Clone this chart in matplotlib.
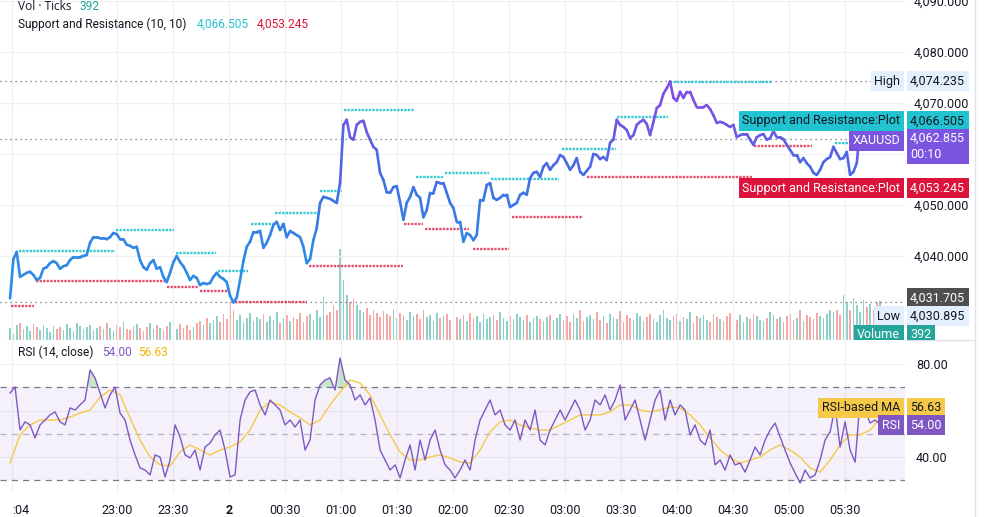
import numpy as np
import matplotlib.pyplot as plt
from matplotlib.collections import LineCollection
from matplotlib.colors import LinearSegmentedColormap, Normalize
from matplotlib.lines import Line2D
from matplotlib.transforms import blended_transform_factory, Bbox, TransformedBbox

plt.rcParams['font.family'] = ['Roboto', 'DejaVu Sans']

# time is in minutes from 00:00 of day 2 (negative = day 1 evening)
t_first = -117.3
t_last = 348.8

# XAUUSD closes, evenly sampled from t_first to t_last
close = [
    4031.7, 4039.4, 4040.8, 4035.9, 4036.3, 4036.7, 4036.9, 4036.3, 4035.3, 4035.7,
    4037.5, 4037.8, 4038.6, 4039.0, 4038.6, 4037.5, 4038.0, 4038.2, 4039.2, 4039.8,
    4039.8, 4039.8, 4040.0, 4040.2, 4042.6, 4043.7, 4043.7, 4043.5, 4043.5, 4043.3,
    4043.7, 4044.5, 4044.3, 4043.3, 4043.3, 4042.2, 4042.0, 4041.6, 4041.8, 4039.2,
    4037.8, 4037.3, 4038.6, 4039.2, 4037.5, 4037.8, 4035.9, 4034.9, 4036.7, 4038.8,
    4040.0, 4038.8, 4038.0, 4036.7, 4035.3, 4036.1, 4035.7, 4034.3, 4034.7, 4034.5,
    4034.7, 4035.9, 4036.7, 4035.9, 4035.5, 4034.9, 4032.2, 4030.9, 4031.8, 4035.3,
    4039.0, 4041.8, 4042.8, 4044.7, 4044.7, 4044.9, 4041.6, 4042.6, 4044.1, 4046.1,
    4046.7, 4045.1, 4046.3, 4043.7, 4044.9, 4044.5, 4044.1, 4043.7, 4041.8, 4038.6,
    4039.4, 4043.1, 4045.5, 4050.4, 4051.6, 4051.4, 4051.2, 4050.8, 4050.4, 4054.3,
    4065.7, 4066.7, 4063.3, 4062.8, 4065.7, 4066.3, 4066.5, 4064.3, 4062.8, 4061.4,
    4060.8, 4056.3, 4054.9, 4052.5, 4052.4, 4053.5, 4053.7, 4050.6, 4047.1, 4050.4,
    4051.6, 4053.5, 4052.0, 4051.4, 4047.6, 4049.0, 4052.4, 4052.4, 4054.5, 4054.3,
    4054.3, 4052.4, 4050.4, 4049.4, 4046.7, 4046.7, 4042.8, 4044.5, 4044.1, 4043.1,
    4044.1, 4051.0, 4051.0, 4053.9, 4054.3, 4051.4, 4051.0, 4051.4, 4052.0, 4052.0,
    4049.6, 4050.0, 4050.4, 4052.0, 4052.4, 4052.0, 4055.3, 4056.3, 4056.5, 4055.5,
    4057.5, 4058.2, 4056.9, 4057.8, 4058.4, 4059.8, 4059.4, 4058.2, 4056.9, 4057.8,
    4059.2, 4056.5, 4055.9, 4056.7, 4057.5, 4060.0, 4059.8, 4059.0, 4059.4, 4058.8,
    4062.2, 4062.8, 4066.7, 4065.7, 4065.3, 4064.7, 4063.1, 4063.7, 4065.7, 4066.3,
    4066.7, 4065.9, 4063.7, 4066.3, 4069.0, 4069.6, 4071.8, 4072.9, 4074.2, 4071.0,
    4070.4, 4072.2, 4071.0, 4072.2, 4072.2, 4070.6, 4069.2, 4069.2, 4069.2, 4069.6,
    4068.8, 4067.6, 4066.1, 4066.3, 4066.1, 4065.7, 4065.3, 4065.7, 4063.3, 4063.7,
    4063.9, 4063.9, 4062.8, 4061.8, 4063.3, 4063.7, 4063.9, 4062.8, 4063.1, 4064.5,
    4063.3, 4063.3, 4062.9, 4061.8, 4060.8, 4059.8, 4059.8, 4058.4, 4059.2, 4058.2,
    4057.5, 4056.3, 4055.9, 4056.9, 4058.4, 4059.0, 4059.4, 4061.4, 4060.2, 4059.0,
    4059.2, 4060.4, 4055.9, 4056.5, 4058.2, 4065.1, 4066.3, 4064.7, 4065.7, 4063.7,
    4062.8, 4062.855,
]

# volume in ticks, evenly sampled over the same span
volume = [
    120, 60, 150, 170, 110, 140, 90, 160, 130, 100, 150, 120, 80, 140, 110, 130, 100, 160,
    120, 90, 170, 140, 110, 130, 150, 100, 120,
    140, 110, 170, 120, 90, 150, 130, 180, 110, 100, 140, 160, 120, 90, 130, 170, 110, 150,
    120, 100, 140, 180, 130, 110, 160, 120, 150, 100, 130, 170,
    190, 150, 220, 170, 200, 240, 180, 260, 210, 380,
    300, 200, 250, 180, 220, 270, 190, 230, 210, 260, 180, 240, 200, 280, 170, 220, 250, 190,
    230, 210, 270, 180, 240, 260, 200, 300, 230, 430, 250, 280, 350, 300,
    910, 600, 450, 380, 420,
    350, 300, 280, 320, 250, 300, 270, 230, 290, 260, 240, 310, 220, 270, 250, 200, 280, 240,
    260, 210, 300, 230, 250, 190, 270, 220, 240, 260, 200, 280, 230, 210, 250, 190, 270, 220,
    240, 180, 260, 210, 230, 250, 200, 280, 220, 190, 240, 210, 260, 230, 200, 250, 180, 220,
    240, 210, 190, 230, 250, 200, 220, 260,
    200, 240, 180, 260, 220, 300, 190, 230, 250, 210, 280, 200, 240, 170, 260, 230, 210, 290,
    180, 250, 220, 200, 270, 240, 190, 230, 260, 210, 180, 250, 300, 220, 200, 240, 260, 190,
    230, 210, 280, 170, 240, 220, 250, 200, 180, 260, 230, 210, 190, 240, 270, 220, 200, 250,
    180, 230, 210, 260, 240, 200, 190, 220, 280, 250, 210, 230, 180, 240, 260, 200, 220, 300,
    190, 250, 230, 210, 270, 240, 220, 260, 300, 280,
    300, 250, 450, 380, 300, 420, 350, 280, 400, 330, 360, 300, 380, 392,
]

# support / resistance segments: start, end (minutes), level
res_start = [-112.5, -60.5, -28.4, -5.9, 11.8, 24.6, 48.8, 61.6, 100.2, 115.7, 140.4, 178.4, 207.9, 236.3, 324.6, 336.4]
res_end = [-61.1, -29.5, -7.0, 10.2, 23.6, 47.7, 60.5, 99.1, 114.6, 139.3, 176.8, 207.3, 235.2, 290.9, 335.4, 348.8]
res_level = [4041.0, 4045.1, 4040.5, 4037.0, 4046.2, 4048.5, 4052.7, 4068.6, 4055.4, 4056.3, 4055.0, 4061.0, 4067.3, 4074.2, 4062.2, 4066.505]

sup_start = [-116.8, -103.4, -33.2, -15.5, 3.2, 42.9, 93.7, 105.0, 130.7, 151.6, 191.8, 281.3, 336.4]
sup_end = [-104.5, -33.8, -16.1, 0.5, 41.8, 93.2, 103.9, 128.6, 150.0, 189.6, 280.2, 312.3, 348.8]
sup_level = [4030.1, 4035.1, 4033.9, 4033.2, 4030.9, 4038.1, 4046.3, 4045.2, 4041.4, 4047.6, 4055.4, 4061.6, 4053.245]

# RSI (14) and its moving average, evenly sampled over the same span
rsi = [
    67.5, 70.1, 51.6, 55.1, 53.8, 48.2, 53.8, 55.9, 58.1, 59.4, 55.1, 53.8, 61.1, 60.2, 62.4,
    64.5, 77.4, 74.0, 67.5, 61.1, 66.7, 70.1, 58.9, 55.9, 47.3, 40.9, 35.3, 34.4, 32.3, 40.9,
    40.0, 31.4, 38.7, 53.8, 48.6, 40.9, 39.6, 43.0, 34.4, 44.3, 46.0, 49.5, 51.6, 43.0, 31.4,
    32.3, 55.9, 64.5, 68.0, 68.8, 62.4, 58.1, 64.5, 62.4, 60.2, 53.8, 55.9, 52.9, 55.9, 43.0,
    47.3, 64.5, 71.0, 73.1, 74.0, 68.8, 82.6, 73.1, 71.0, 64.5, 66.7, 62.4, 65.4, 55.9, 43.0,
    38.7, 34.4, 36.6, 31.0, 38.7, 45.2, 34.4, 47.3, 38.7, 47.3, 51.6, 43.0, 36.6, 34.4, 31.0,
    34.4, 38.7, 34.4, 47.3, 55.9, 60.2, 64.5, 58.1, 60.2, 53.8, 51.6, 55.9, 47.3, 55.9, 51.6,
    60.2, 47.3, 45.2, 51.6, 55.9, 60.2, 55.9, 60.2, 64.5, 60.2, 51.6, 55.9, 64.5, 62.4, 66.7,
    60.2, 64.5, 71.0, 55.9, 60.2, 64.5, 55.9, 47.3, 55.9, 64.5, 68.8, 55.9, 64.5, 58.1, 62.4,
    60.2, 49.5, 53.8, 47.3, 45.2, 51.6, 36.6, 38.7, 34.4, 40.9, 36.6, 37.4, 33.5, 38.7, 44.3,
    40.9, 47.3, 51.6, 54.6, 48.6, 43.0, 37.4, 33.1, 28.8, 34.4, 31.0, 32.3, 38.7, 47.3, 50.8,
    61.5, 44.3, 55.1, 43.0, 37.8, 64.5, 60.2, 54.6, 55.9, 54.0,
]
rsi_ma = [
    37.4, 49.5, 53.8, 55.9, 55.9, 55.9, 57.2, 58.9, 60.2, 65.8, 68.8, 66.7, 56.8, 47.3, 40.0,
    36.6, 36.1, 42.2, 45.2, 43.0, 40.9, 43.0, 44.3, 46.5, 51.6, 60.2, 63.7, 62.4, 59.4, 56.8,
    53.8, 55.9, 62.4, 68.0, 73.1, 71.8, 66.7, 58.1, 49.5, 42.2, 38.7, 38.7, 40.0, 40.9, 39.6,
    37.8, 37.4, 43.0, 50.8, 55.1, 55.9, 53.8, 52.5, 51.6, 51.6, 53.8, 55.9, 58.1, 58.1, 58.1,
    59.4, 62.4, 62.4, 60.2, 59.4, 60.2, 61.5, 61.1, 58.1, 53.8, 48.2, 43.0, 39.6, 37.4, 38.7,
    40.0, 43.0, 45.2, 43.0, 40.0, 35.3, 33.5, 38.7, 45.2, 49.5, 49.5, 51.6, 56.63,
]

tick_pos = [-116, -60, -30, 0, 30, 60, 90, 120, 150, 180, 210, 240, 270, 300, 330]
tick_txt = [':04', '23:00', '23:30', '2', '00:30', '01:00', '01:30', '02:00', '02:30',
            '03:00', '03:30', '04:00', '04:30', '05:00', '05:30']
price_ticks = [4040, 4050, 4060, 4070, 4080, 4090]
price_shown = [4040, 4050, 4070, 4080, 4090]   # 4,060 sits under the last-price tag
rsi_ticks = [40, 60, 80]
rsi_shown = [40, 80]                            # 60 sits under the RSI tags

high, low = 4074.235, 4030.895
last_price = 4062.855

INK = '#131722'
CYAN = '#22c3d0'
RED = '#dc143c'
PURPLE = '#7e57c2'
YELLOW = '#f7c948'
TEAL = '#26a69a'
GRID = '#eef0f4'

W, H = 985, 517
fig = plt.figure(figsize=(W / 100, H / 100), dpi=100)
fig.patch.set_facecolor('white')

ax = fig.add_axes([0, 1 - 340 / H, 905 / W, 340 / H])
vax = ax.twinx()
rax = fig.add_axes([0, 1 - 492 / H, 905 / W, 152 / H], sharex=ax)
ax.set_zorder(2)
ax.patch.set_visible(False)
vax.set_zorder(1)
rax.set_zorder(3)

xmin, xmax = -122.68, 362.14
ax.set_xlim(xmin, xmax)
ax.set_ylim(4090.196 - 340 / 5.1, 4090.196)
rax.set_ylim(80 - 128 / 2.325, 80 + 24 / 2.325)
vax.set_ylim(0, 3400)

for a in (ax, vax, rax):
    for s in a.spines.values():
        s.set_visible(False)

# grid
for tp in tick_pos:
    ax.axvline(tp, color=GRID, lw=0.9, zorder=0)
    rax.axvline(tp, color=GRID, lw=0.9, zorder=0)
for p in price_ticks:
    ax.axhline(p, color=GRID, lw=0.9, zorder=0)
for r in rsi_ticks:
    rax.axhline(r, color=GRID, lw=0.9, zorder=0)

t = np.linspace(t_first, t_last, len(close))
c = np.array(close)

# volume bars
vt = np.linspace(t_first, t_last, len(volume))
step = vt[1] - vt[0]
up = np.interp(vt, t, c) >= np.interp(vt - step, t, c)
vcol = np.where(up, '#8fd0c9', '#f5a8a6')
vax.bar(vt, volume, width=step * 0.5, color=vcol, linewidth=0)
vax.set_yticks([])

# dotted reference lines
for lvl in (high, last_price, low):
    ax.axhline(lvl, color='#6a6d78', lw=0.9, ls=(0, (1, 3)), zorder=3)

# support / resistance
for s0, s1, lv in zip(res_start, res_end, res_level):
    ax.plot([s0, s1], [lv, lv], color=CYAN, lw=1.7, ls=(0, (1, 0.5)), alpha=0.9, zorder=4)
for s0, s1, lv in zip(sup_start, sup_end, sup_level):
    ax.plot([s0, s1], [lv, lv], color=RED, lw=1.7, ls=(0, (1, 0.5)), alpha=0.75, zorder=4)

# gradient price line
pts = np.column_stack([t, c]).reshape(-1, 1, 2)
segs = np.concatenate([pts[:-1], pts[1:]], axis=1)
cmap = LinearSegmentedColormap.from_list('px', ['#2f8ae6', '#3f6fe4', '#7e4fe6'])
lc = LineCollection(segs, cmap=cmap, norm=Normalize(4040, 4070), linewidths=1.9,
                    capstyle='round', joinstyle='round', zorder=5)
lc.set_array((c[:-1] + c[1:]) / 2)
ax.add_collection(lc)

# price scale
ax.yaxis.tick_right()
ax.set_yticks(price_ticks)
ax.set_yticklabels([f'{p:,.3f}' if p in price_shown else '' for p in price_ticks])
ax.tick_params(axis='y', length=0, pad=6, labelsize=9, labelcolor=INK)
ax.tick_params(axis='x', length=0, labelbottom=False)
vax.tick_params(length=0)

# RSI pane
rt = np.linspace(t_first, t_last, len(rsi))
mt = np.linspace(t_first, t_last, len(rsi_ma))
r = np.array(rsi)
rax.axhspan(30, 70, color=PURPLE, alpha=0.08, lw=0, zorder=0)
rax.axhline(70, color='#787b86', lw=0.9, ls=(0, (5, 4)))
rax.axhline(50, color='#787b86', lw=0.9, ls=(0, (5, 4)), alpha=0.5)
rax.axhline(30, color='#787b86', lw=0.9, ls=(0, (5, 4)))
rax.fill_between(rt, r, 70, where=r > 70, interpolate=True, color='#4caf50', alpha=0.3, lw=0)
rax.plot(mt, rsi_ma, color=YELLOW, lw=1.0, zorder=3)
rax.plot(rt, r, color=PURPLE, lw=1.0, zorder=4)
rax.yaxis.tick_right()
rax.set_yticks(rsi_ticks)
rax.set_yticklabels([f'{v:.2f}' if v in rsi_shown else '' for v in rsi_ticks])
rax.tick_params(axis='y', length=0, pad=8, labelsize=9, labelcolor=INK)
rax.set_xticks(tick_pos)
rax.set_xticklabels(tick_txt)
rax.tick_params(axis='x', length=0, pad=9, labelsize=9, labelcolor=INK)
xl = rax.get_xticklabels()
xl[0].set_ha('left')
xl[3].set_fontweight('bold')


def tag(a, y, text, fc, tc, name=False, clip=None):
    tr = blended_transform_factory(a.transAxes, a.transData)
    x, ha = (900 / 905, 'right') if name else (910 / 905, 'left')
    tx = a.text(x, y, text, transform=tr, ha=ha, va='center', fontsize=9, color=tc,
                linespacing=1.25, zorder=20, clip_on=clip is not None,
                bbox=dict(boxstyle='square,pad=0.28', fc=fc, ec='none'))
    if clip is not None:
        tx.set_clip_box(clip)
    return tx


tag(ax, high, 'High', '#e3effd', INK, name=True)
tag(ax, high, f'{high:,.3f}', '#e3effd', INK)
tag(ax, res_level[-1], 'Support and Resistance:Plot', CYAN, INK, name=True)
tag(ax, res_level[-1], f'{res_level[-1]:,.3f}', CYAN, INK)
tag(ax, 4062.6, 'XAUUSD', '#7b55e0', 'white', name=True)
tag(ax, 4061.47, f'{last_price:,.3f}\n00:10', '#7b55e0', 'white')
tag(ax, sup_level[-1], 'Support and Resistance:Plot', RED, 'white', name=True)
tag(ax, sup_level[-1], f'{sup_level[-1]:,.3f}', RED, 'white')
tag(ax, 4031.705, '4,031.705', '#4f4f4f', 'white')
tag(ax, 4028.14, 'Low', '#e3effd', INK, name=True)
tag(ax, 4028.14, f'{low:,.3f}', '#e3effd', INK)
clip = TransformedBbox(Bbox([[0, 177 / H], [1, 1]]), fig.transFigure)
tag(ax, 4024.6, 'Volume', TEAL, 'white', name=True, clip=clip)
tag(ax, 4024.6, str(volume[-1]), TEAL, 'white', clip=clip)

tag(rax, 61.08, 'RSI-based MA', YELLOW, INK, name=True)
tag(rax, 61.08, f'{rsi_ma[-1]:.2f}', YELLOW, INK)
tag(rax, 53.76, 'RSI', PURPLE, 'white', name=True)
tag(rax, 53.76, f'{rsi[-1]:.2f}', PURPLE, 'white')


def ftext(x, y, s, color=INK, family=None):
    kw = {'family': family} if family else {}
    fig.text(x / W, 1 - y / H, s, ha='left', va='center', fontsize=8.6, color=color, **kw)


ftext(18, 7, 'Vol · Ticks', family=['Open Sans', 'DejaVu Sans'])
ftext(80, 7, str(volume[-1]), TEAL)
ftext(18, 24, 'Support and Resistance (10, 10)')
ftext(197, 24, f'{res_level[-1]:,.3f}', CYAN)
ftext(257, 24, f'{sup_level[-1]:,.3f}', RED)
ftext(18, 352, 'RSI (14, close)')
ftext(102, 352, f'{rsi[-1]:.2f}', PURPLE)
ftext(138, 352, f'{rsi_ma[-1]:.2f}', '#f2b705')

# pane separators
fig.add_artist(Line2D([0, 975 / W], [1 - 340 / H] * 2, color='#e0e3eb', lw=1))
fig.add_artist(Line2D([975 / W] * 2, [0, 1], color='#e0e3eb', lw=1))

fig.savefig('out.png', dpi=100, facecolor='white')
